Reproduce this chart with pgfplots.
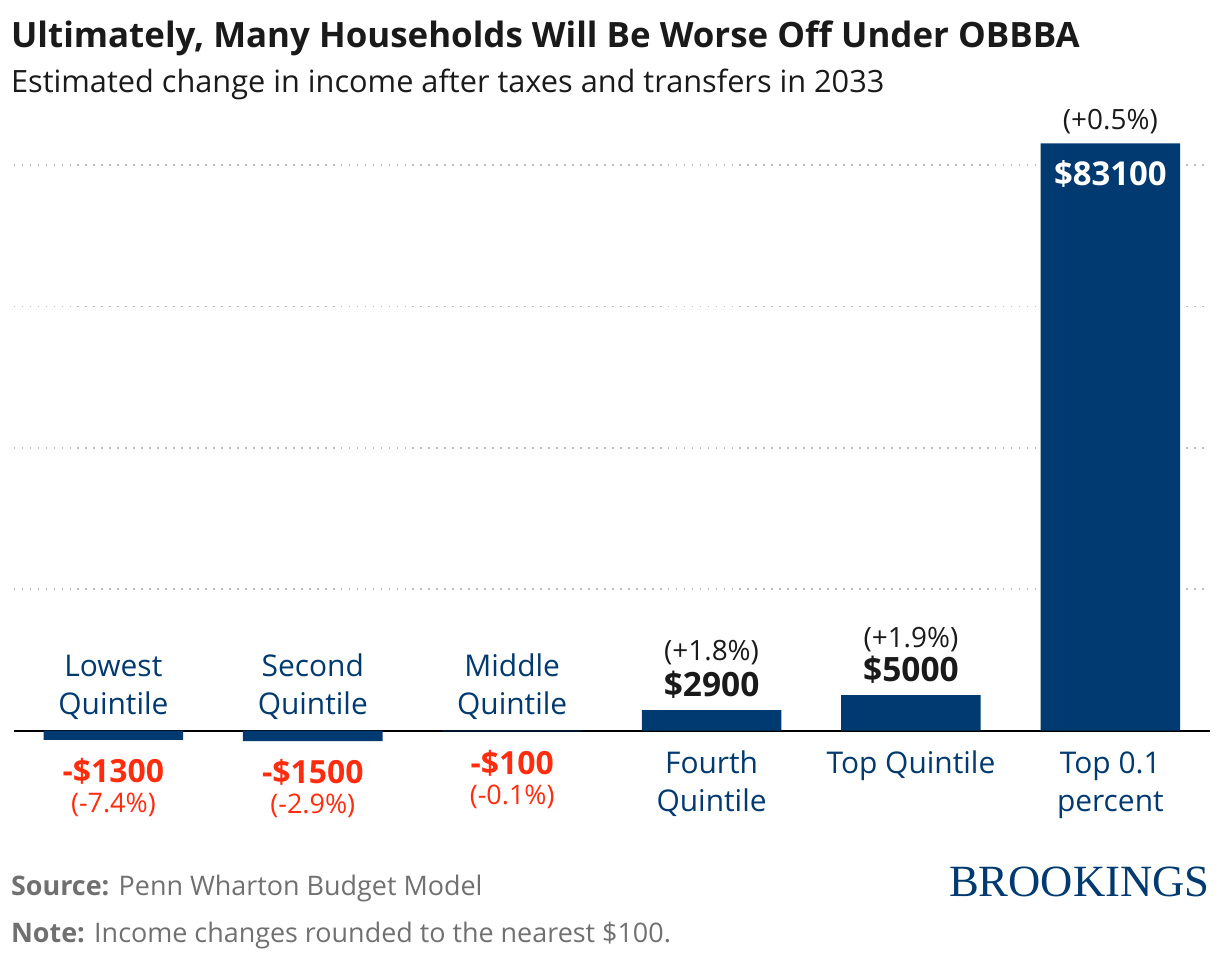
\documentclass[border=0pt]{standalone}
\usepackage{pgfplots}
\pgfplotsset{compat=1.18}
\usepackage{fontspec}
\setmainfont{Open Sans}
\newfontfamily\logofont{Liberation Serif}

\definecolor{navy}{HTML}{003A70}
\definecolor{negred}{HTML}{FF2D0D}
\definecolor{ink}{HTML}{1A1A1A}
\definecolor{foot}{HTML}{707070}
\definecolor{gridc}{HTML}{BDBDBD}

\begin{document}
\begin{tikzpicture}
% page frame: 1220x962 px at 0.5pt per px, axis box starts at px (10,747)
\path (-5pt,-107.5pt) rectangle (605pt,373.5pt);

\begin{axis}[
    at={(0pt,0pt)}, anchor=south west,
    width=600pt, height=304.8pt,
    scale only axis,
    axis line style={draw=none},
    xmin=-0.5, xmax=5.5,
    ymin=-2000, ymax=84000,
    xtick=\empty,
    ytick={20000,40000,60000,80000},
    yticklabels={},
    scaled y ticks=false,
    major tick length=0pt,
    ymajorgrids,
    grid style={gridc, line width=0.9pt, dash pattern=on 0.9pt off 3.1pt},
    extra y ticks={0},
    extra y tick labels={},
    extra y tick style={grid style={black, solid, line width=1pt}},
    clip=false,
]
\addplot[ybar, bar width=0.7, fill=navy, draw=none]
    coordinates {(0,-1300) (1,-1500) (2,-100) (3,2900) (4,5000) (5,83100)};
\end{axis}

% title and subtitle
\node[anchor=base west, inner sep=0, text=ink] at (-1.5pt,349.5pt)
    {\fontsize{17.5}{21}\selectfont\bfseries Ultimately, Many Households Will Be Worse Off Under OBBBA};
\node[anchor=base west, inner sep=0, text=ink] at (-1.5pt,327pt)
    {\fontsize{15.4}{18}\selectfont Estimated change in income after taxes and transfers in 2033};

% category labels
\begin{scope}[every node/.style={anchor=base, inner sep=0, text=navy, font=\fontsize{15}{18}\selectfont}]
\node at (50pt,34pt) {Lowest};   \node at (50pt,15pt) {Quintile};
\node at (150pt,34pt) {Second};  \node at (150pt,15pt) {Quintile};
\node at (250pt,34pt) {Middle};  \node at (250pt,15pt) {Quintile};
\node at (350pt,-14.5pt) {Fourth}; \node at (350pt,-33.5pt) {Quintile};
\node at (450pt,-14.5pt) {Top Quintile};
\node at (550pt,-14.5pt) {Top 0.1}; \node at (550pt,-33.5pt) {percent};
\end{scope}

% value labels
\begin{scope}[every node/.style={anchor=base, inner sep=0}]
\node[text=negred, font=\fontsize{16}{19}\selectfont\bfseries] at (50pt,-19pt) {-\$1300};
\node[text=negred, font=\fontsize{13.5}{16}\selectfont] at (50pt,-34pt) {(-7.4\%)};
\node[text=negred, font=\fontsize{16}{19}\selectfont\bfseries] at (150pt,-19.5pt) {-\$1500};
\node[text=negred, font=\fontsize{13.5}{16}\selectfont] at (150pt,-34.5pt) {(-2.9\%)};
\node[text=negred, font=\fontsize{16}{19}\selectfont\bfseries] at (250pt,-15pt) {-\$100};
\node[text=negred, font=\fontsize{13.5}{16}\selectfont] at (250pt,-30pt) {(-0.1\%)};
\node[text=ink, font=\fontsize{14}{17}\selectfont] at (350pt,42pt) {(+1.8\%)};
\node[text=ink, font=\fontsize{16.8}{20}\selectfont\bfseries] at (350pt,24pt) {\$2900};
\node[text=ink, font=\fontsize{14}{17}\selectfont] at (450pt,49pt) {(+1.9\%)};
\node[text=ink, font=\fontsize{16.8}{20}\selectfont\bfseries] at (450pt,31.5pt) {\$5000};
\node[text=ink, font=\fontsize{14}{17}\selectfont] at (550pt,308.5pt) {(+0.5\%)};
\node[text=white, font=\fontsize{16.5}{20}\selectfont\bfseries] at (550pt,280.5pt) {\$83100};
\end{scope}

% footer
\node[anchor=base west, inner sep=0, text=foot, font=\fontsize{13.5}{16}\selectfont] at (-1.5pt,-75.5pt)
    {\textbf{Source:} Penn Wharton Budget Model};
\node[anchor=base west, inner sep=0, text=foot, font=\fontsize{13.5}{16}\selectfont] at (-1.5pt,-99pt)
    {\textbf{Note:} Income changes rounded to the nearest \$100.};
\node[anchor=base east, inner sep=0, text=navy] at (600pt,-76pt)
    {\logofont\fontsize{22.4}{26}\selectfont BROOKINGS};
\end{tikzpicture}
\end{document}
